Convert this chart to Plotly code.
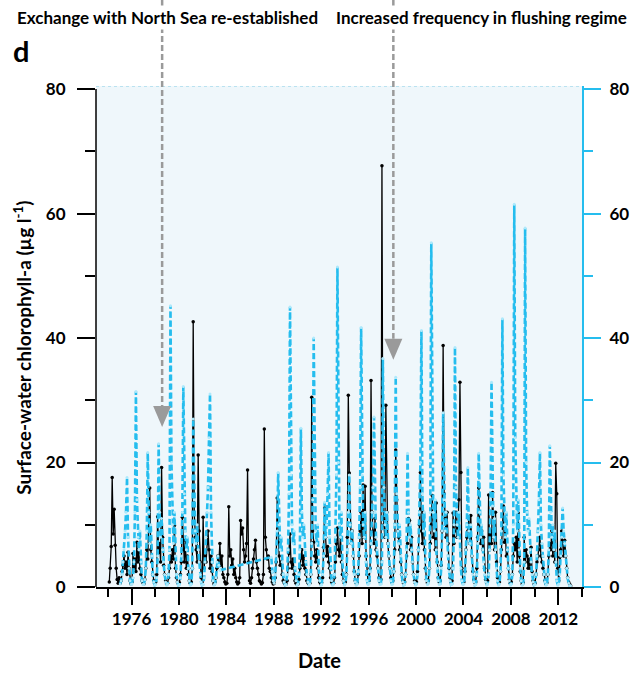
import pandas as pd
import plotly.graph_objects as go

# Monthly sample dates, Jan 1974 .. Jan 2013 (mid-month)
months = pd.date_range("1974-01-01", "2013-01-01", freq="MS") + pd.Timedelta(days=14)

# Surface-water chlorophyll-a, black series (left axis), Jan..Dec per row
chl_black = [
    None, 0.8, 3.0, 6.5, 17.6, 8.5, 12.5, 6.7, 3.0, 1.2, 0.6, 1.5,   # 1974
    0.6, 1.0, 2.5, 3.5, 5.0, 3.0, 4.0, 2.0, 5.6, 3.0, 1.0, 0.5,      # 1975
    0.8, 5.4, 3.0, 4.5, 2.5, 7.2, 4.0, 5.5, 3.0, 2.0, 1.0, 0.7,      # 1976
    0.5, 1.2, 3.0, 6.0, 4.5, 9.0, 15.9, 6.0, 4.0, 2.0, 1.0, 0.6,     # 1977
    0.8, 2.0, 11.3, 5.5, 7.0, 4.0, 19.2, 8.0, 3.5, 2.0, 1.0, 0.5,    # 1978
    0.6, 1.5, 3.0, 5.0, 4.0, 6.0, 4.5, 9.9, 3.0, 1.5, 0.8, 0.5,      # 1979
    0.7, 2.0, 4.0, 11.2, 6.0, 4.0, 7.5, 3.0, 5.0, 2.0, 1.0, 0.6,     # 1980
    0.8, 3.0, 42.6, 12.0, 8.0, 6.0, 4.0, 21.2, 9.0, 4.0, 1.5, 0.8,   # 1981
    11.2, 3.0, 5.0, 4.0, 7.0, 9.0, 6.0, 3.0, 5.0, 2.5, 1.0, 0.5,     # 1982
    0.8, 1.5, 3.0, 5.0, 4.0, 7.0, 3.5, 5.0, 2.0, 1.5, 0.8, 0.5,      # 1983
    0.6, 2.0, 12.9, 5.0, 6.0, 3.5, 4.5, 2.0, 3.0, 1.5, 0.8, 0.5,     # 1984
    0.7, 1.5, 10.7, 8.5, 9.5, 6.0, 4.0, 5.0, 7.0, 18.8, 4.0, 1.0,    # 1985
    0.6, 1.5, 3.0, 4.5, 6.0, 7.5, 4.0, 3.0, 2.0, 1.0, 0.8, 0.5,      # 1986
    0.7, 2.0, 25.4, 8.0, 6.0, 4.5, 5.0, 3.0, 2.5, 1.5, 0.8, 0.5,     # 1987
    0.6, 1.5, 4.0, 14.3, 7.2, 5.0, 3.5, 4.0, 2.0, 1.0, 0.7, 0.5,     # 1988
    0.5, 1.0, 3.0, 5.4, 8.5, 4.0, 3.0, 4.5, 2.0, 1.0, 0.6, 0.4,      # 1989
    0.5, 1.2, 3.0, 4.6, 6.0, 3.5, 5.0, 3.0, 2.0, 1.0, 0.7, 0.5,      # 1990
    0.6, 2.0, 30.5, 9.0, 7.2, 5.0, 4.0, 6.0, 3.0, 1.5, 0.8, 0.5,     # 1991
    0.7, 1.5, 6.4, 12.7, 8.0, 5.0, 6.5, 4.0, 3.0, 1.5, 0.8, 0.5,     # 1992
    0.6, 1.5, 4.0, 7.0, 9.5, 6.0, 5.0, 8.0, 4.0, 2.0, 1.0, 0.6,      # 1993
    0.8, 2.0, 8.0, 30.8, 18.3, 10.0, 7.0, 9.0, 5.0, 2.5, 1.0, 0.6,   # 1994
    0.7, 2.0, 5.0, 9.0, 12.0, 7.0, 16.4, 8.0, 16.2, 5.0, 2.0, 0.8,   # 1995
    1.0, 3.0, 33.2, 12.0, 9.0, 7.0, 11.0, 6.0, 5.0, 3.0, 1.5, 0.8,   # 1996
    1.2, 67.7, 14.0, 10.0, 8.0, 29.2, 12.0, 7.0, 5.0, 3.0, 1.5, 0.8, # 1997
    1.0, 2.5, 6.0, 22.0, 14.0, 9.0, 8.0, 6.0, 4.0, 2.0, 1.0, 0.6,    # 1998
    0.8, 2.0, 5.0, 7.0, 11.0, 10.7, 6.0, 8.0, 4.0, 2.0, 1.0, 0.6,    # 1999
    0.8, 2.5, 6.0, 10.0, 18.4, 9.0, 7.0, 12.0, 6.0, 3.0, 1.2, 0.7,   # 2000
    1.0, 3.0, 7.0, 10.0, 14.7, 8.0, 9.0, 6.0, 13.5, 4.0, 1.5, 0.8,   # 2001
    1.0, 3.5, 9.0, 38.8, 15.0, 11.0, 8.0, 12.0, 7.0, 3.0, 1.5, 0.8,  # 2002
    1.0, 11.9, 7.0, 9.0, 12.0, 8.0, 10.0, 14.0, 32.9, 18.4, 3.0, 1.0,  # 2003
    0.8, 2.5, 6.0, 8.0, 9.0, 11.0, 7.0, 11.5, 5.0, 2.5, 1.2, 0.7,    # 2004
    0.8, 3.0, 8.0, 15.9, 10.0, 7.0, 9.0, 6.0, 8.0, 3.0, 1.2, 0.7,    # 2005
    1.0, 14.8, 6.0, 9.0, 7.0, 15.2, 8.0, 6.0, 12.0, 4.0, 1.5, 0.7,   # 2006
    0.8, 2.5, 6.0, 10.0, 13.0, 7.2, 9.0, 5.0, 6.0, 3.0, 1.2, 0.6,    # 2007
    0.8, 2.0, 5.0, 7.0, 6.0, 8.0, 4.0, 11.9, 5.0, 2.5, 1.0, 0.5,     # 2008
    0.7, 8.0, 4.0, 6.0, 5.0, 3.0, 4.5, 3.0, 6.4, 2.5, 1.0, 0.5,      # 2009
    0.6, 2.0, 4.0, 5.0, 6.0, 8.0, 5.0, 4.0, 3.0, 2.0, 1.0, 0.5,      # 2010
    0.7, 2.0, 5.0, 7.0, 6.0, 9.0, 5.0, 8.0, 4.0, 19.9, 15.0, 3.0,    # 2011
    1.0, 4.8, 6.0, 9.0, 7.0, 5.0, 7.5, 5.0, 3.0, 1.5, 0.8, 0.5,      # 2012
    0.2,                                                             # 2013
]

# Surface-water chlorophyll-a, blue dashed series (right axis); gap 1983-1987
chl_blue = [
    None, None, None, None, None, None, None, None, None, None, None, None,  # 1974
    0.5, 1.0, 2.0, 4.0, 6.0, 9.0, 12.0, 17.6, 8.0, 3.0, 1.0, 0.4,     # 1975
    0.5, 1.5, 4.0, 12.0, 31.4, 14.0, 8.0, 6.0, 9.0, 4.0, 1.0, 0.4,    # 1976
    0.4, 1.2, 3.0, 9.0, 21.6, 12.0, 7.0, 10.0, 5.0, 2.0, 0.8, 0.3,    # 1977
    0.4, 1.5, 5.0, 23.0, 12.0, 8.0, 11.0, 6.0, 4.0, 2.0, 0.8, 0.3,    # 1978
    0.5, 2.0, 6.0, 45.2, 20.0, 10.0, 7.0, 12.0, 5.0, 2.0, 0.8, 0.3,   # 1979
    0.4, 1.5, 5.0, 12.0, 32.2, 15.0, 9.0, 6.0, 8.0, 3.0, 1.0, 0.3,    # 1980
    0.5, 3.0, 27.0, 14.0, 9.0, 7.0, 10.0, 6.0, 4.0, 2.0, 0.8, 0.3,    # 1981
    0.4, 1.5, 4.0, 8.0, 12.0, 16.0, 24.0, 31.0, 12.0, 4.0, 1.0, 0.3,  # 1982
    0.5, 1.5, 4.0, 5.0, 3.5, 2.7, None, None, None, None, None, None,  # 1983
    None, None, None, None, None, None, None, None, None, None, None, None,  # 1984
    None, None, None, None, None, None, None, None, None, None, None, None,  # 1985
    None, None, None, None, None, None, None, None, None, None, None, None,  # 1986
    None, None, None, None, None, None, None, None, None, 4.8, 2.5, 1.0,    # 1987
    0.6, 2.0, 5.0, 9.0, 18.4, 10.0, 6.0, 8.0, 4.0, 2.0, 0.8, 0.3,     # 1988
    0.4, 2.0, 6.0, 15.0, 45.0, 18.0, 10.0, 7.0, 9.0, 3.0, 1.0, 0.3,   # 1989
    0.5, 2.0, 6.0, 25.5, 12.0, 8.0, 10.0, 6.0, 4.0, 2.0, 0.8, 0.3,    # 1990
    0.5, 2.0, 7.0, 14.0, 40.0, 16.0, 9.0, 7.0, 10.0, 3.0, 1.0, 0.3,   # 1991
    0.4, 2.0, 5.0, 13.6, 8.0, 10.0, 15.0, 21.6, 8.0, 3.0, 1.0, 0.3,   # 1992
    0.5, 2.0, 8.0, 18.0, 51.4, 20.0, 10.0, 8.0, 12.0, 4.0, 1.0, 0.3,  # 1993
    0.5, 2.0, 6.0, 12.0, 18.0, 10.0, 7.0, 9.0, 5.0, 2.0, 0.8, 0.3,    # 1994
    0.5, 2.5, 8.0, 16.0, 41.7, 18.0, 10.0, 8.0, 12.0, 4.0, 1.0, 0.4,  # 1995
    0.6, 2.5, 7.0, 12.0, 16.0, 27.3, 12.0, 8.0, 6.0, 3.0, 1.0, 0.4,   # 1996
    0.5, 4.0, 36.7, 16.0, 10.0, 8.0, 12.0, 7.0, 5.0, 3.0, 1.0, 0.4,   # 1997
    0.5, 2.5, 10.0, 33.7, 15.0, 9.0, 7.0, 10.0, 5.0, 2.0, 0.8, 0.3,   # 1998
    0.4, 2.0, 6.0, 21.5, 12.0, 8.0, 10.0, 6.0, 4.0, 2.0, 0.8, 0.3,    # 1999
    0.5, 2.0, 6.0, 12.0, 20.0, 41.2, 15.0, 9.0, 12.0, 4.0, 1.0, 0.4,  # 2000
    0.6, 3.0, 12.0, 55.3, 22.0, 12.0, 9.0, 14.0, 6.0, 3.0, 1.0, 0.4,  # 2001
    0.5, 3.0, 9.0, 28.0, 14.0, 9.0, 12.0, 7.0, 5.0, 2.5, 1.0, 0.4,    # 2002
    0.5, 3.0, 10.0, 38.5, 16.0, 10.0, 8.0, 12.0, 6.0, 3.0, 1.0, 0.4,  # 2003
    0.5, 2.0, 6.0, 10.0, 19.2, 9.0, 7.0, 10.0, 5.0, 2.0, 0.8, 0.3,    # 2004
    0.4, 2.0, 7.0, 21.5, 12.0, 8.0, 10.0, 6.0, 4.0, 2.0, 0.8, 0.3,    # 2005
    0.5, 2.0, 6.0, 14.0, 32.9, 13.0, 8.0, 11.0, 6.0, 3.0, 1.0, 0.3,   # 2006
    0.5, 2.5, 9.0, 43.1, 18.0, 10.0, 8.0, 12.0, 6.0, 3.0, 1.0, 0.3,   # 2007
    0.5, 2.0, 10.0, 61.5, 24.0, 12.0, 9.0, 14.0, 6.0, 3.0, 1.0, 0.3,  # 2008
    0.5, 4.0, 57.7, 20.0, 12.0, 9.0, 11.0, 6.0, 4.0, 2.0, 0.8, 0.3,   # 2009
    0.4, 2.0, 5.0, 9.0, 14.0, 21.6, 10.0, 7.0, 5.0, 2.0, 0.8, 0.3,    # 2010
    0.4, 2.0, 6.0, 22.7, 12.0, 8.0, 10.0, 6.0, 9.0, 4.0, 1.0, 0.3,    # 2011
    0.5, 2.0, 5.0, 8.0, 12.7, 9.0, 7.0, 5.0, 3.0, 1.5, 0.6, 0.2,      # 2012
    0.2,                                                              # 2013
]

# Management events and the chlorophyll level their arrows point at
event_dates = ["1978-08-01", "1998-02-01"]
event_levels = [25.7, 36.5]
event_labels = ["Exchange with North Sea re-established",
                "Increased frequency in flushing regime"]
event_label_x = [169, 490]          # label centres, px from left

y_ticks = [0, 20, 40, 60, 80]

BLUE = "#25bdee"
GREY = "#9a9a9a"
FONT = "Lato"
W, H = 641, 674
L, R, T, B = 96, 48, 86, 87
PW, PH = W - L - R, H - T - B
YMAX = 80.5
HEAD_W, HEAD_H = 18, 21            # arrowhead size, px


def px_to_paper_x(px):
    return (px - L) / PW


def px_to_paper_y(py):
    return (H - B - py) / PH


fig = go.Figure()

fig.add_trace(go.Scatter(
    x=months, y=chl_black, mode="lines+markers",
    line=dict(color="black", width=1.3),
    marker=dict(color="black", size=3.5),
    connectgaps=False, showlegend=False, yaxis="y",
))
fig.add_trace(go.Scatter(
    x=months, y=chl_blue, mode="lines+markers",
    line=dict(color=BLUE, width=2.6, dash="6px,3px"),
    marker=dict(color="#aee9fb", size=3),
    connectgaps=True, showlegend=False, yaxis="y2",
))

tickfont = dict(family=FONT, size=17, color="black", weight="bold")

fig.update_layout(
    width=W, height=H,
    margin=dict(l=L, r=R, t=T, b=B, pad=0),
    paper_bgcolor="white",
    plot_bgcolor="#eff7fb",
    font=dict(family=FONT, color="black"),
    xaxis=dict(
        type="date", range=["1973-01-01", "2014-01-01"],
        tick0="1976-01-01", dtick="M48", tickformat="%Y",
        ticks="outside", ticklen=16, tickwidth=1.5, tickcolor="black",
        minor=dict(tick0="1974-01-01", dtick="M24", ticks="outside",
                   ticklen=8, tickwidth=1.5, tickcolor="black"),
        showline=True, linecolor="black", linewidth=1.5,
        showgrid=False, zeroline=False, tickfont=tickfont,
    ),
    yaxis=dict(
        range=[0, YMAX], tickvals=y_ticks,
        ticks="outside", ticklen=18, tickwidth=1.5, tickcolor="black",
        minor=dict(tickvals=[10, 30, 50, 70], ticks="outside",
                   ticklen=10, tickwidth=1.5, tickcolor="black"),
        showline=False, showgrid=False, zeroline=False,
        tickfont=tickfont, ticklabelstandoff=8,
    ),
    yaxis2=dict(
        range=[0, YMAX], tickvals=y_ticks, overlaying="y", side="right",
        ticks="outside", ticklen=17, tickwidth=1.5, tickcolor=BLUE,
        minor=dict(tickvals=[10, 30, 50, 70], ticks="outside",
                   ticklen=9, tickwidth=1.5, tickcolor=BLUE),
        showline=True, linecolor=BLUE, linewidth=2,
        showgrid=False, zeroline=False, tickfont=tickfont,
        ticklabelstandoff=5,
    ),
)

# left (black) axis line from 0 to 80 and dotted top edge of the panel
fig.add_shape(type="line", xref="paper", yref="y", x0=0, x1=0, y0=0, y1=80,
              line=dict(color="black", width=1.5), layer="above")
fig.add_shape(type="line", xref="paper", yref="y", x0=0, x1=1, y0=YMAX, y1=YMAX,
              line=dict(color="#a9dced", width=1.5, dash="dot"), layer="above")

# event arrows: dashed shaft from the page top, filled head at the level
page_top = px_to_paper_y(0)
for d, lvl in zip(event_dates, event_levels):
    head_top = (lvl * PH / YMAX + HEAD_H) / PH
    fig.add_shape(type="line", xref="x", yref="paper", x0=d, x1=d,
                  y0=page_top, y1=head_top,
                  line=dict(color=GREY, width=2.5, dash="6px,3px"),
                  layer="above")
    fig.add_shape(type="path", xref="x", yref="y",
                  xsizemode="pixel", ysizemode="pixel", xanchor=d, yanchor=lvl,
                  path=f"M{-HEAD_W / 2},{HEAD_H} L{HEAD_W / 2},{HEAD_H} L0,0 Z",
                  fillcolor=GREY, line=dict(width=0), layer="above")

for lab, cx in zip(event_labels, event_label_x):
    fig.add_annotation(x=px_to_paper_x(cx), y=px_to_paper_y(18),
                       xref="paper", yref="paper", text=lab, showarrow=False,
                       xanchor="center", yanchor="middle", bgcolor="white",
                       font=dict(family=FONT, size=17, weight="bold"))

fig.add_annotation(x=px_to_paper_x(9), y=px_to_paper_y(51), xref="paper",
                   yref="paper", text="d", showarrow=False, xanchor="left",
                   yanchor="middle", font=dict(family=FONT, size=29, weight="bold"))

fig.add_annotation(x=px_to_paper_x(325), y=px_to_paper_y(660), xref="paper",
                   yref="paper", text="Date", showarrow=False, xanchor="center",
                   yanchor="middle", font=dict(family=FONT, size=20, weight="bold"))

fig.add_annotation(x=px_to_paper_x(20), y=px_to_paper_y(348), xref="paper",
                   yref="paper", text="Surface-water chlorophyll-a (µg l<sup>-1</sup>)",
                   showarrow=False, textangle=-90, xanchor="center", yanchor="middle",
                   font=dict(family=FONT, size=19, weight="bold"))

fig.write_html("out.html")
